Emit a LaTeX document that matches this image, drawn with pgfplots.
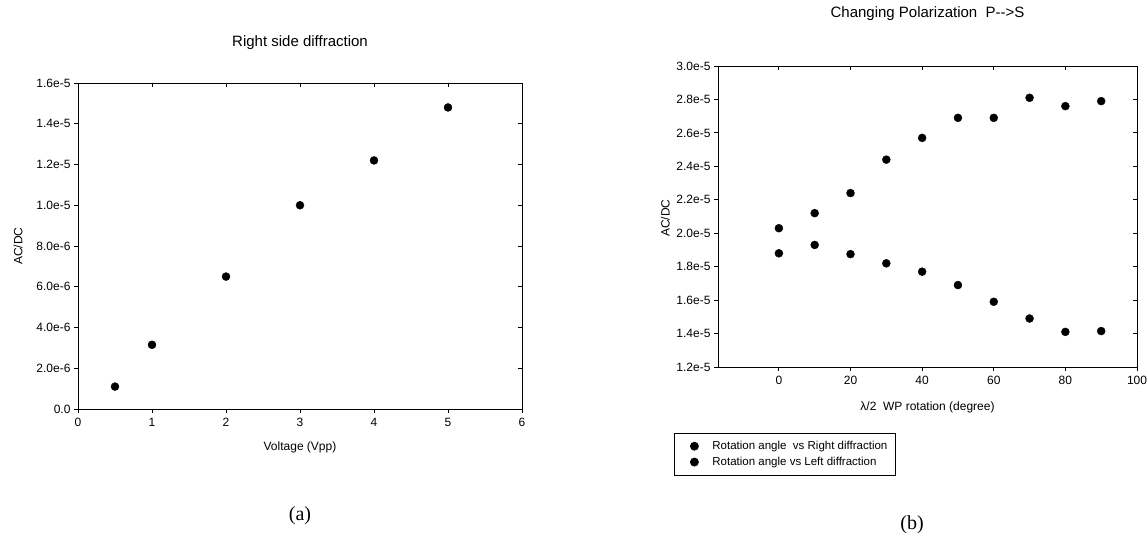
\documentclass[border=0pt]{standalone}
\usepackage{fontspec}
\setmainfont{Liberation Sans}
\newfontfamily\capfont{Liberation Serif}
\usepackage{pgfplots}
\pgfplotsset{compat=1.18}

\pgfplotsset{
  refaxis/.style={
    scale only axis,
    anchor=south west,
    scaled ticks=false,
    axis line style={line width=1pt},
    major tick length=4pt,
    tick style={black, line width=0.8pt},
    tick label style={font=\fontsize{12}{14}\selectfont},
    xticklabel style={yshift=-2pt},
    label style={font=\fontsize{12}{14}\selectfont},
    title style={font=\fontsize{15}{18}\selectfont, yshift=-6pt},
    /pgf/number format/assume math mode=true,
  },
  boxticks/.style={
    scale only axis,
    anchor=south west,
    scaled ticks=false,
    axis line style={line width=1pt},
    major tick length=4pt,
    tick style={black, line width=0.8pt},
    tick align=inside,
    xtick pos=right, ytick pos=right,
    xticklabels={}, yticklabels={},
  },
  dots/.style={only marks, mark=*, mark size=4pt, black},
}

\begin{document}
\begin{tikzpicture}
\path[use as bounding box] (0,0) rectangle (1148pt,539pt);

% (a) voltage dependence
\begin{axis}[refaxis,
  at={(78pt,130pt)}, width=444pt, height=326pt,
  xmin=0, xmax=6, ymin=0, ymax=1.6e-5,
  xtick={0,1,...,6},
  ytick={0,2e-6,4e-6,6e-6,8e-6,1e-5,1.2e-5,1.4e-5,1.6e-5},
  yticklabels={0.0,2.0e-6,4.0e-6,6.0e-6,8.0e-6,1.0e-5,1.2e-5,1.4e-5,1.6e-5},
  tick align=outside, xtick pos=left, ytick pos=left,
  title={Right side diffraction},
  title style={at={(axis description cs:0.5,1.125)}, anchor=center},
  xlabel={Voltage (Vpp)},
  xlabel style={at={(axis description cs:0.5,-0.117)}, anchor=center},
  ylabel={AC/DC},
  ylabel style={at={(axis description cs:-0.135,0.5)}, anchor=center},
]
\addplot[dots] coordinates {
  (0.5,1.10e-6) (1,3.15e-6) (2,6.50e-6) (3,1.00e-5) (4,1.22e-5) (5,1.48e-5)
};
\end{axis}
\begin{axis}[boxticks,
  at={(78pt,130pt)}, width=444pt, height=326pt,
  xmin=0, xmax=6, ymin=0, ymax=1.6e-5,
  xtick={0,1,...,6},
  ytick={0,2e-6,4e-6,6e-6,8e-6,1e-5,1.2e-5,1.4e-5,1.6e-5},
]
\end{axis}
\node[font=\capfont\fontsize{20}{24}\selectfont] at (300pt,23pt) {(a)};

% (b) polarization
\begin{axis}[refaxis,
  at={(718pt,172pt)}, width=419pt, height=301pt,
  xmin=-17, xmax=100, ymin=1.2e-5, ymax=3.0e-5,
  xtick={0,20,...,100},
  ytick={1.2e-5,1.4e-5,1.6e-5,1.8e-5,2.0e-5,2.2e-5,2.4e-5,2.6e-5,2.8e-5,3.0e-5},
  yticklabels={1.2e-5,1.4e-5,1.6e-5,1.8e-5,2.0e-5,2.2e-5,2.4e-5,2.6e-5,2.8e-5,3.0e-5},
  tick align=outside, xtick pos=left, ytick pos=left,
  title={Changing Polarization\ \ P-{}->S},
  title style={at={(axis description cs:0.5,1.173)}, anchor=center},
  xlabel={λ/2\ \ WP rotation (degree)},
  xlabel style={at={(axis description cs:0.5,-0.133)}, anchor=center},
  ylabel={AC/DC},
  ylabel style={at={(axis description cs:-0.126,0.495)}, anchor=center},
  legend cell align=left,
  legend image code/.code={
    \path[draw=none, fill=none] (0pt,-3pt) rectangle (30pt,3pt);
    \draw[mark repeat=2,mark phase=2,#1] plot coordinates {(0pt,0pt) (14pt,0pt) (28pt,0pt)};
  },
  legend style={at={(-0.105,-0.219)}, anchor=north west,
    font=\fontsize{11.5}{13}\selectfont, draw=black, line width=0.8pt,
    row sep=2pt, inner xsep=6pt, inner ysep=6pt},
]
\addplot[dots] coordinates {
  (0,2.03e-5) (10,2.12e-5) (20,2.24e-5) (30,2.44e-5) (40,2.57e-5)
  (50,2.69e-5) (60,2.69e-5) (70,2.81e-5) (80,2.76e-5) (90,2.79e-5)
};
\addlegendentry{Rotation angle\ \ vs Right diffraction}
\addplot[dots] coordinates {
  (0,1.88e-5) (10,1.93e-5) (20,1.875e-5) (30,1.82e-5) (40,1.77e-5)
  (50,1.69e-5) (60,1.59e-5) (70,1.49e-5) (80,1.41e-5) (90,1.415e-5)
};
\addlegendentry{Rotation angle vs Left diffraction}
\end{axis}
\begin{axis}[boxticks,
  at={(718pt,172pt)}, width=419pt, height=301pt,
  xmin=-17, xmax=100, ymin=1.2e-5, ymax=3.0e-5,
  xtick={0,20,...,100},
  ytick={1.2e-5,1.4e-5,1.6e-5,1.8e-5,2.0e-5,2.2e-5,2.4e-5,2.6e-5,2.8e-5,3.0e-5},
]
\end{axis}
\node[font=\capfont\fontsize{20}{24}\selectfont] at (912pt,14pt) {(b)};
\end{tikzpicture}
\end{document}
